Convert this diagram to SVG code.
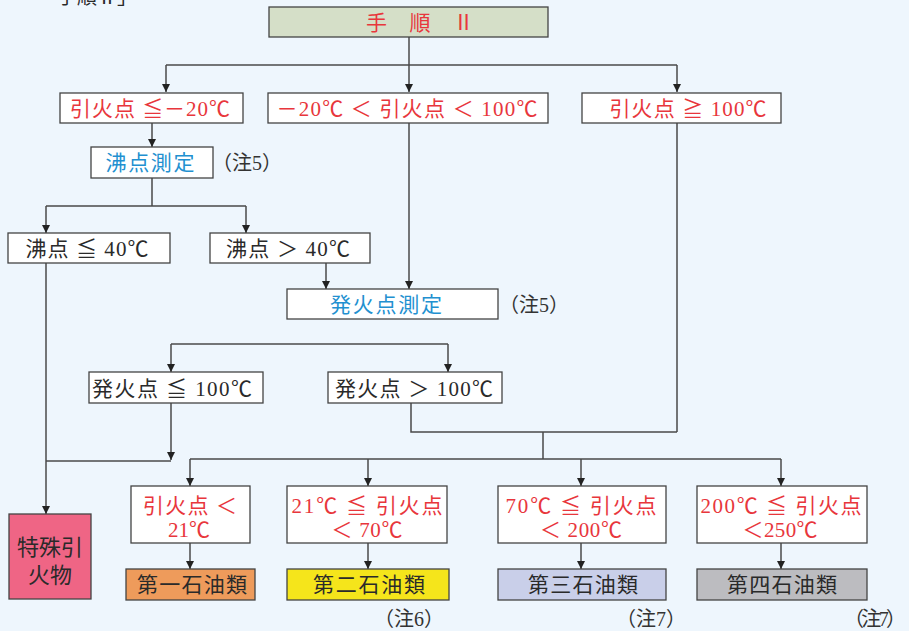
<svg xmlns="http://www.w3.org/2000/svg" width="909" height="631" viewBox="0 0 909 631">
<defs>
<marker id="arr" viewBox="0 0 8 8" refX="8" refY="4" markerWidth="8" markerHeight="8" markerUnits="userSpaceOnUse" orient="auto">
<path d="M0,0 L8,4 L0,8 z" fill="#222"/>
</marker>
<style>
.bx{stroke:#444;stroke-width:1.3;fill:#fff}
.ln{stroke:#4a4a4a;stroke-width:1.5;fill:none}
.ar{stroke:#4a4a4a;stroke-width:1.5;fill:none;marker-end:url(#arr)}
text{font-family:"Liberation Serif","Noto Sans CJK JP",serif;font-size:21px;text-anchor:middle}
.r{fill:#e8363c}
.b{fill:#2290d0}
.k{fill:#2a2a2a}
.n{fill:#333;font-size:20px;text-anchor:start}
</style>
</defs>
<rect width="909" height="631" fill="#eef6fd"/>
<text x="37" y="4" class="k" style="text-anchor:start;font-size:20px">「手順Ⅱ」</text>

<g id="connectors">
<path class="ar" d="M409,37 V92"/>
<path class="ln" d="M166,65 H677"/>
<path class="ar" d="M166,65 V92"/>
<path class="ar" d="M677,65 V92"/>
<path class="ar" d="M152,123 V147"/>
<path class="ln" d="M152,178 V206 M46,206 H246"/>
<path class="ar" d="M46,206 V233"/>
<path class="ar" d="M246,206 V233"/>
<path class="ar" d="M326,263 V289"/>
<path class="ar" d="M409,123 V289"/>
<path class="ln" d="M171,344 H448"/>
<path class="ar" d="M171,344 V372"/>
<path class="ar" d="M448,344 V372"/>
<path class="ar" d="M46,263 V514"/>
<path class="ln" d="M46,461 H171"/>
<path class="ar" d="M171,403 V460"/>
<path class="ln" d="M411,403 V432 H677 M677,123 V432 M543,432 V459 M190,459 H781"/>
<path class="ar" d="M190,459 V486"/>
<path class="ar" d="M368,459 V486"/>
<path class="ar" d="M581,459 V486"/>
<path class="ar" d="M781,459 V486"/>
<path class="ar" d="M190,543 V569"/>
<path class="ar" d="M368,543 V569"/>
<path class="ar" d="M581,543 V569"/>
<path class="ar" d="M781,543 V569"/>
</g>

<g id="title">
<rect x="269" y="7" width="279" height="30" class="bx" style="fill:#d5dfc8"/>
<text x="420" y="30" class="r" textLength="108" lengthAdjust="spacing">手　順　Ⅱ</text>
</g>

<g id="n1">
<rect x="60" y="93" width="183" height="30" class="bx"/>
<text x="150" y="116" class="r" textLength="160" lengthAdjust="spacing">引火点 ≦－20℃</text>
</g>
<g id="n2">
<rect x="268" y="93" width="280" height="30" class="bx"/>
<text x="407" y="116" class="r" textLength="261" lengthAdjust="spacing">－20℃ ＜ 引火点 ＜ 100℃</text>
</g>
<g id="n3">
<rect x="582" y="93" width="199" height="30" class="bx"/>
<text x="688" y="116" class="r" textLength="157" lengthAdjust="spacing">引火点 ≧ 100℃</text>
</g>

<g id="n4">
<rect x="91" y="147" width="122" height="31" class="bx"/>
<text x="150" y="170" class="b" textLength="89" lengthAdjust="spacing">沸点測定</text>
</g>
<text x="212" y="170" class="n">（注5）</text>

<g id="n5">
<rect x="8" y="233" width="162" height="30" class="bx"/>
<text x="87" y="256" class="k" textLength="123" lengthAdjust="spacing">沸点 ≦ 40℃</text>
</g>
<g id="n6">
<rect x="210" y="233" width="160" height="30" class="bx"/>
<text x="288" y="256" class="k" textLength="124" lengthAdjust="spacing">沸点 ＞ 40℃</text>
</g>

<g id="n7">
<rect x="287" y="289" width="211" height="30" class="bx"/>
<text x="386" y="312" class="b" textLength="112" lengthAdjust="spacing">発火点測定</text>
</g>
<text x="499" y="312" class="n">（注5）</text>

<g id="n8">
<rect x="89" y="372" width="174" height="31" class="bx"/>
<text x="172" y="396" class="k" textLength="160" lengthAdjust="spacing">発火点 ≦ 100℃</text>
</g>
<g id="n9">
<rect x="328" y="372" width="174" height="31" class="bx"/>
<text x="414" y="396" class="k" textLength="158" lengthAdjust="spacing">発火点 ＞ 100℃</text>
</g>

<g id="n10">
<rect x="9" y="514" width="82" height="85" class="bx" style="fill:#ef6585"/>
<text x="50" y="555" class="k" style="font-size:22px" textLength="66" lengthAdjust="spacing">特殊引</text>
<text x="50" y="583" class="k" style="font-size:22px" textLength="44" lengthAdjust="spacing">火物</text>
</g>

<g id="n11">
<rect x="131" y="486" width="119" height="57" class="bx"/>
<text x="190" y="513" class="r" textLength="94" lengthAdjust="spacing">引火点 ＜</text>
<text x="189" y="537" class="r" textLength="42" lengthAdjust="spacing">21℃</text>
</g>
<g id="n12">
<rect x="287" y="486" width="160" height="57" class="bx"/>
<text x="367" y="513" class="r" textLength="151" lengthAdjust="spacing">21℃ ≦ 引火点</text>
<text x="367" y="537" class="r" textLength="71" lengthAdjust="spacing">＜ 70℃</text>
</g>
<g id="n13">
<rect x="498" y="486" width="168" height="57" class="bx"/>
<text x="581" y="513" class="r" textLength="151" lengthAdjust="spacing">70℃ ≦ 引火点</text>
<text x="581" y="537" class="r" textLength="82" lengthAdjust="spacing">＜ 200℃</text>
</g>
<g id="n14">
<rect x="697" y="486" width="170" height="57" class="bx"/>
<text x="781" y="513" class="r" textLength="161" lengthAdjust="spacing">200℃ ≦ 引火点</text>
<text x="780" y="537" class="r" textLength="75" lengthAdjust="spacing">＜250℃</text>
</g>

<g id="n15">
<rect x="126" y="569" width="129" height="31" class="bx" style="fill:#ee9b5b"/>
<text x="192" y="592" class="k" textLength="110" lengthAdjust="spacing">第一石油類</text>
</g>
<g id="n16">
<rect x="287" y="569" width="162" height="31" class="bx" style="fill:#f5e51b"/>
<text x="369" y="592" class="k" textLength="112" lengthAdjust="spacing">第二石油類</text>
</g>
<text x="374" y="626" class="n">（注6）</text>
<g id="n17">
<rect x="498" y="569" width="168" height="31" class="bx" style="fill:#c9cfe9"/>
<text x="583" y="592" class="k" textLength="110" lengthAdjust="spacing">第三石油類</text>
</g>
<text x="616" y="626" class="n">（注7）</text>
<g id="n18">
<rect x="697" y="569" width="170" height="31" class="bx" style="fill:#bcbcc0"/>
<text x="782" y="592" class="k" textLength="110" lengthAdjust="spacing">第四石油類</text>
</g>
<text x="844" y="626" class="n" textLength="62" lengthAdjust="spacing">（注7）</text>
</svg>
